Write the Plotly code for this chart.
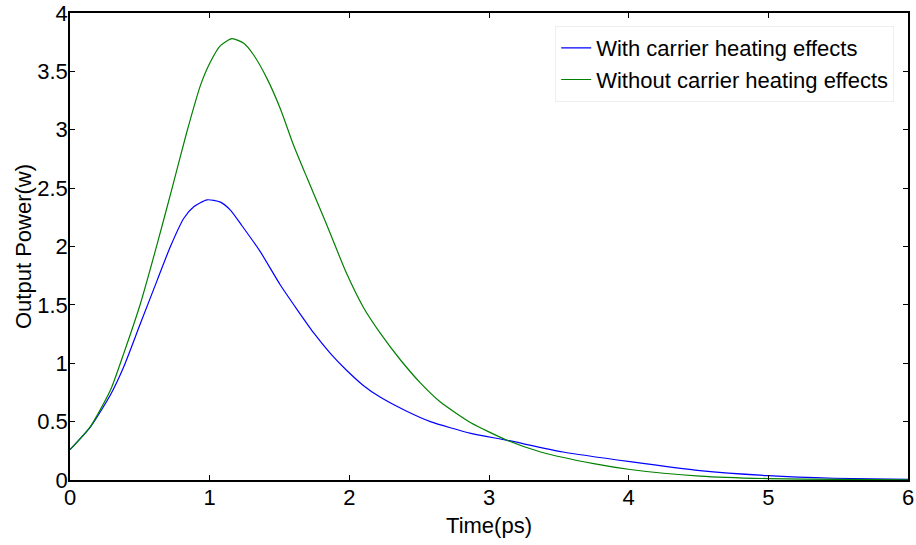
import plotly.graph_objects as go

# Data
t_with = [0.0, 0.147, 0.29, 0.385, 0.504, 0.624, 0.719, 0.814, 0.886, 0.982, 1.077, 1.15, 1.23,
          1.36, 1.506, 1.626, 1.745, 1.864, 1.98, 2.10, 2.22, 2.40, 2.58, 2.87, 3.13, 3.53, 4.01,
          4.51, 5.0, 5.47, 6.0]
p_with = [0.26, 0.455, 0.73, 0.97, 1.34, 1.71, 2.00, 2.24, 2.34, 2.40, 2.38, 2.31, 2.18,
          1.96, 1.67, 1.46, 1.26, 1.085, 0.94, 0.81, 0.71, 0.595, 0.50, 0.40, 0.34, 0.24, 0.157,
          0.08, 0.037, 0.015, 0.005]

t_without = [0.0, 0.147, 0.29, 0.385, 0.504, 0.624, 0.731, 0.834, 0.934, 1.005, 1.077, 1.16,
             1.244, 1.315, 1.41, 1.506, 1.60, 1.70, 1.83, 1.98, 2.10, 2.22, 2.365, 2.51, 2.65,
             2.87, 3.13, 3.37, 3.75, 4.01, 4.51, 5.0, 5.5, 6.0]
p_without = [0.26, 0.46, 0.77, 1.085, 1.51, 2.02, 2.50, 2.97, 3.38, 3.58, 3.72, 3.78,
             3.74, 3.64, 3.44, 3.18, 2.87, 2.58, 2.21, 1.77, 1.48, 1.26, 1.03, 0.83, 0.67,
             0.49, 0.34, 0.24, 0.14, 0.09, 0.034, 0.012, 0.005, 0.002]

x_ticks = [0, 1, 2, 3, 4, 5, 6]
y_ticks = [0, 0.5, 1, 1.5, 2, 2.5, 3, 3.5, 4]
y_tick_labels = ["0", "0.5", "1", "1.5", "2", "2.5", "3", "3.5", "4"]

FONT = "Liberation Sans, Arial, sans-serif"
FS = 22

fig = go.Figure()
fig.add_trace(go.Scatter(x=t_with, y=p_with, mode="lines", name="With carrier heating effects",
                         line=dict(color="#0000ff", width=1.2, shape="spline", smoothing=0.6)))
fig.add_trace(go.Scatter(x=t_without, y=p_without, mode="lines", name="Without carrier heating effects",
                         line=dict(color="#008000", width=1.2, shape="spline", smoothing=0.6)))

axis_common = dict(showline=True, linecolor="black", linewidth=1.5, mirror="ticks",
                   ticks="inside", ticklen=5, tickwidth=1, tickcolor="black",
                   showgrid=False, zeroline=False, automargin=False,
                   tickfont=dict(family=FONT, size=FS, color="black"))

fig.update_xaxes(range=[0, 6], tickvals=x_ticks, ticktext=[str(v) for v in x_ticks],
                 ticklabelstandoff=-3,
                 title=dict(text="Time(ps)", font=dict(family=FONT, size=FS, color="black"), standoff=8),
                 **axis_common)
fig.update_yaxes(range=[0, 4], tickvals=y_ticks, ticktext=y_tick_labels,
                 ticklabelstandoff=-4,
                 title=dict(text="Output Power(w)", font=dict(family=FONT, size=FS, color="black"), standoff=0),
                 **axis_common)

fig.update_layout(
    width=916, height=545,
    margin=dict(l=69.5, r=8, t=13, b=65),
    paper_bgcolor="white", plot_bgcolor="white",
    font=dict(family=FONT, size=FS, color="black"),
    legend=dict(x=0.579, y=0.972, xanchor="left", yanchor="top",
                bgcolor="white", bordercolor="#eeeeee", borderwidth=1,
                font=dict(family=FONT, size=FS, color="black"),
                tracegroupgap=0, itemwidth=30),
    showlegend=True,
)

fig.write_html("out.html", config={"displayModeBar": False},
               post_script="document.body.style.margin='0';")
